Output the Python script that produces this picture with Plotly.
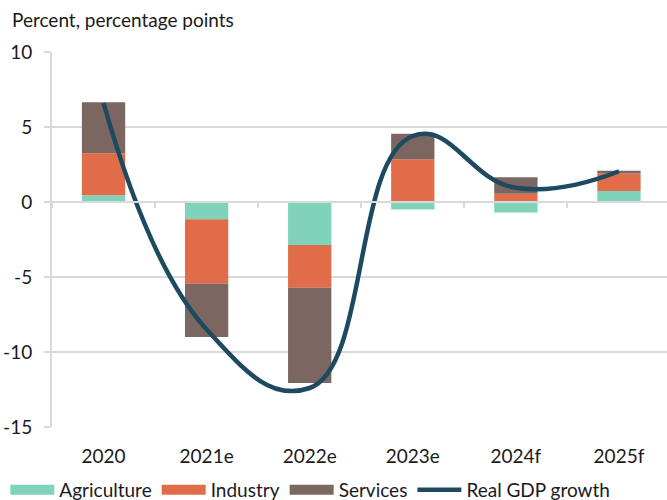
import plotly.graph_objects as go

categories = ["2020", "2021e", "2022e", "2023e", "2024f", "2025f"]
agriculture = [0.45, -1.15, -2.87, -0.5, -0.7, 0.73]
industry = [2.8, -4.3, -2.85, 2.85, 0.55, 1.17]
services = [3.4, -3.55, -6.35, 1.7, 1.1, 0.18]
gdp_growth = [6.6, -8.5, -12.4, 4.4, 0.95, 2.05]
y_ticks = [10, 5, 0, -5, -10, -15]

FONT = "Lato, Carlito, Calibri, sans-serif"
FS = 19
GRID = "#d9d9d9"
TXT = "#1a1a1a"

fig = go.Figure()
series = [("Agriculture", agriculture, "#7fd3ba"),
          ("Industry", industry, "#e06c4a"),
          ("Services", services, "#7b6662")]
for name, vals, col in series:
    fig.add_trace(go.Bar(x=categories, y=vals, name=name, marker_color=col,
                         marker_line_width=0, width=0.42, legendgroup=name,
                         showlegend=False))
# legend swatches (wide rectangles as in the original legend)
for name, vals, col in series:
    fig.add_trace(go.Scatter(x=[None], y=[None], name=name, mode="lines",
                             legendgroup=name,
                             line=dict(color=col, width=13)))

fig.add_trace(go.Scatter(x=categories, y=gdp_growth, name="Real GDP growth",
                         mode="lines", line=dict(color="#1e4a5f", width=4.5,
                                                 shape="spline", smoothing=1.3)))

# invisible trace to carry the zero-line category ticks
fig.add_trace(go.Scatter(x=categories, y=[0] * len(categories), xaxis="x2",
                         mode="markers", marker=dict(opacity=0), showlegend=False,
                         hoverinfo="skip"))

xr = [-0.5, 5.466]
fig.update_layout(
    width=667, height=500,
    margin=dict(l=52, r=0, t=52, b=73),
    paper_bgcolor="white", plot_bgcolor="white",
    barmode="relative",
    font=dict(family=FONT, size=FS, color=TXT),
    title=dict(text="Percent, percentage points", x=0.018, xanchor="left",
               xref="container", y=0.96, yref="container", yanchor="middle",
               font=dict(family=FONT, size=FS, color=TXT)),
    xaxis=dict(type="category", range=xr, showgrid=False, showline=False,
               ticks="", ticklabelstandoff=16, tickfont=dict(size=FS)),
    xaxis2=dict(type="category", range=xr, overlaying="x", anchor="free",
                position=0.6, side="bottom", showline=True, linecolor=GRID,
                linewidth=2, ticks="outside", tickson="boundaries", ticklen=5,
                tickwidth=2, tickcolor=GRID, showticklabels=False, showgrid=False,
                zeroline=False),
    yaxis=dict(range=[-15, 10], tickvals=y_ticks, ticktext=[str(v) for v in y_ticks],
               showgrid=True, gridcolor=GRID, gridwidth=2, zeroline=False,
               showline=True, linecolor=GRID, linewidth=2, ticks="outside",
               ticklen=6, tickwidth=2, tickcolor=GRID, tickfont=dict(size=FS),
               ticklabelstandoff=8),
    legend=dict(orientation="h", xref="container", yref="container",
                x=0.008, xanchor="left", y=0.02, yanchor="middle",
                font=dict(size=19), itemwidth=44, traceorder="normal",
                tracegroupgap=0, borderwidth=0),
    showlegend=True,
)

fig.write_html("out.html", post_script="document.body.style.margin='0';",
               config={"displayModeBar": False})
